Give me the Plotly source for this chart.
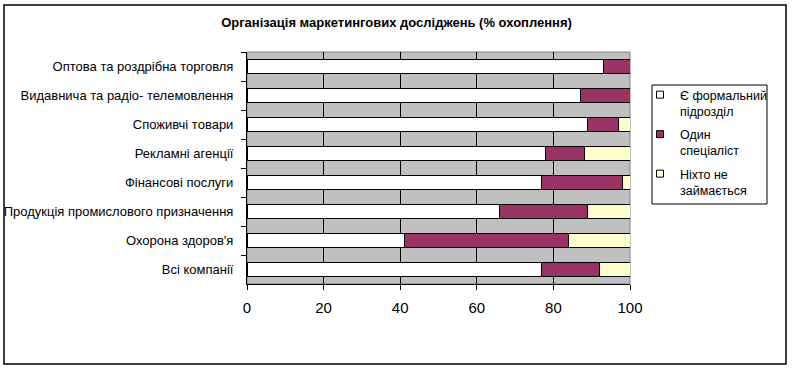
import plotly.graph_objects as go

categories = [
    "Оптова та роздрібна торговля",
    "Видавнича та радіо- телемовлення",
    "Споживчі товари",
    "Рекламні агенції",
    "Фінансові послуги",
    "Продукція промислового призначення",
    "Охорона здоров'я",
    "Всі компанії",
]
formal_unit = [93, 87, 89, 78, 77, 66, 41, 77]
one_specialist = [7, 13, 8, 10, 21, 23, 43, 15]
nobody = [0, 0, 3, 12, 2, 11, 16, 8]

series_names = ["Є формальний<br>підрозділ", "Один<br>спеціаліст", "Ніхто не<br>займається"]
series_values = [formal_unit, one_specialist, nobody]
series_colors = ["#FFFFFF", "#993366", "#FFFFCC"]

x_ticks = [0, 20, 40, 60, 80, 100]

FONT = "Liberation Sans, Arial, sans-serif"

fig = go.Figure()
for i, (name, vals, col) in enumerate(zip(series_names, series_values, series_colors)):
    fig.add_trace(go.Bar(
        y=categories, x=vals, name=name, orientation="h",
        legendgroup=f"g{i}", showlegend=False,
        marker=dict(color=col, line=dict(color="black", width=1)),
    ))
    # legend proxy with small square symbol
    fig.add_trace(go.Scatter(
        x=[None], y=[None], mode="markers", name=name, legendgroup=f"g{i}",
        marker=dict(symbol="square", size=7, color=col, line=dict(color="black", width=1)),
        hoverinfo="skip",
    ))

W, H = 793, 370
L, R, T, B = 247, 163, 52, 86
pw, ph = W - L - R, H - T - B

def px(x):
    return (x - L) / pw

def py(y):
    return (H - B - y) / ph

fig.update_layout(
    width=W, height=H,
    margin=dict(l=L, r=R, t=T, b=B, pad=0, autoexpand=False),
    barmode="stack", bargap=0.52,
    paper_bgcolor="white", plot_bgcolor="#C0C0C0",
    font=dict(family=FONT, size=13, color="black"),
    title=dict(text="<b>Організація маркетингових досліджень (% охоплення)</b>",
               x=0.5, xanchor="center", y=1 - 22 / H, yanchor="middle",
               font=dict(family=FONT, size=13, color="black")),
    showlegend=True,
    legend=dict(x=px(640), y=py(80), xanchor="left", yanchor="top",
                bgcolor="rgba(0,0,0,0)", borderwidth=0,
                traceorder="grouped", valign="top",
                font=dict(family=FONT, size=12.5, color="black"),
                itemwidth=30, tracegroupgap=4),
    xaxis=dict(range=[0, 100], tickvals=x_ticks, ticktext=[str(t) for t in x_ticks],
               showgrid=True, gridcolor="black", gridwidth=1,
               showline=True, linecolor="black", linewidth=1,
               ticks="outside", ticklen=5, tickcolor="black",
               tickfont=dict(family=FONT, size=15, color="black"),
               ticklabelstandoff=5, automargin=False,
               zeroline=False, fixedrange=True),
    yaxis=dict(categoryorder="array", categoryarray=categories, autorange="reversed",
               showline=True, linecolor="black", linewidth=1,
               ticks="outside", ticklen=5, tickcolor="black", tickson="boundaries",
               showgrid=False, tickfont=dict(family=FONT, size=13, color="black"),
               ticklabelstandoff=10, automargin=False, fixedrange=True),
    shapes=[
        dict(type="rect", xref="paper", yref="paper", x0=0, x1=1, y0=0, y1=1,
             line=dict(color="#808080", width=1), layer="below"),
        # outer chart frame
        dict(type="rect", xref="paper", yref="paper",
             x0=px(4), x1=px(786), y0=py(364), y1=py(5),
             line=dict(color="black", width=1.5)),
        # legend frame
        dict(type="rect", xref="paper", yref="paper",
             x0=px(652), x1=px(767), y0=py(204), y1=py(85),
             line=dict(color="black", width=1), fillcolor="rgba(0,0,0,0)"),
    ],
)

fig.write_html("out.html", config={"displayModeBar": False},
               post_script="document.body.style.margin='0';document.body.style.overflow='hidden';")
